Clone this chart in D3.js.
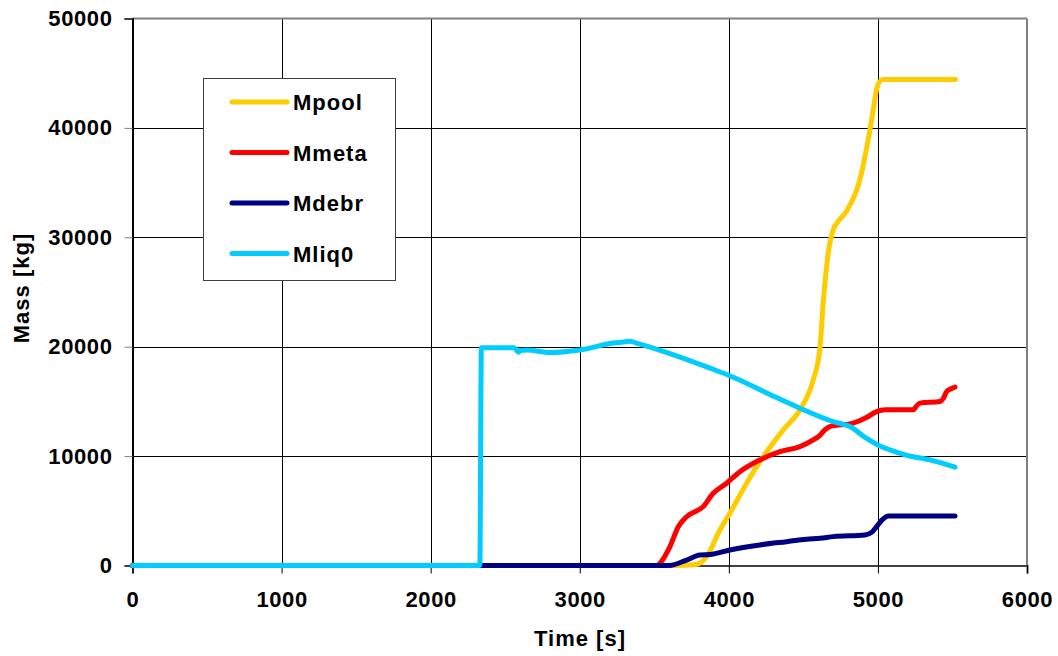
<!DOCTYPE html>
<html>
<head>
<meta charset="utf-8">
<script src="https://cdn.jsdelivr.net/npm/d3@7"></script>
<style>
  html, body { margin: 0; padding: 0; background: #fff; }
  svg text { font-family: "Liberation Sans", Arial, sans-serif; font-weight: bold; }
</style>
</head>
<body>
<svg id="chart" width="1058" height="656"></svg>
<script>
// Time axis [s] and mass histories [kg]
const xTicks = [0, 1000, 2000, 3000, 4000, 5000, 6000];
const yTicks = [0, 10000, 20000, 30000, 40000, 50000];

const seriesNames = ["Mpool", "Mmeta", "Mdebr", "Mliq0"];
const seriesColors = ["#FFCC00", "#FF0000", "#000080", "#00CCFF"];

const mpoolT = [0, 3620, 3780, 3851, 3940, 4007, 4119, 4231, 4365, 4477, 4566, 4611, 4633, 4667, 4700, 4730, 4790, 4879, 4935, 4969, 4991, 5010, 5036, 5100, 5520];
const mpoolM = [0, 0, 100, 805, 3250, 4775, 7520, 9955, 12400, 14230, 16970, 19850, 23990, 28560, 30700, 31400, 32400, 35270, 38930, 41670, 43500, 44200, 44420, 44420, 44420];

const mmetaT = [0, 3520, 3538, 3605, 3661, 3717, 3828, 3895, 3985, 4074, 4208, 4343, 4477, 4566, 4611, 4644, 4678, 4834, 4920, 4991, 5050, 5237, 5260, 5282, 5416, 5440, 5461, 5490, 5517];
const mmetaM = [0, 0, 200, 1720, 3550, 4460, 5380, 6600, 7520, 8580, 9650, 10410, 10870, 11480, 11900, 12400, 12700, 13010, 13500, 14070, 14230, 14230, 14600, 14840, 14990, 15300, 15900, 16150, 16300];

const mdebrT = [0, 3600, 3717, 3806, 3873, 4007, 4208, 4387, 4522, 4611, 4700, 4913, 4960, 4991, 5030, 5070, 5517];
const mdebrM = [0, 0, 500, 960, 1000, 1420, 1880, 2180, 2400, 2490, 2640, 2790, 3050, 3550, 4200, 4530, 4530];

const mliq0T = [0, 2330, 2340, 2560, 2590, 2600, 2645, 2800, 3000, 3225, 3310, 3337, 3370, 3600, 3875, 4007, 4250, 4477, 4700, 4812, 4919, 5000, 5081, 5182, 5349, 5517];
const mliq0M = [0, 0, 19900, 19900, 19500, 19650, 19700, 19470, 19700, 20330, 20450, 20500, 20380, 19400, 18040, 17340, 15800, 14380, 13150, 12700, 11665, 11020, 10570, 10110, 9650, 8985];

const series = [
  { name: seriesNames[0], color: seriesColors[0], t: mpoolT, m: mpoolM },
  { name: seriesNames[1], color: seriesColors[1], t: mmetaT, m: mmetaM },
  { name: seriesNames[2], color: seriesColors[2], t: mdebrT, m: mdebrM },
  { name: seriesNames[3], color: seriesColors[3], t: mliq0T, m: mliq0M }
];

const svg = d3.select("#chart");
const plotL = 132.5, plotR = 1027, plotT = 18.5, plotB = 565.5;

const x = d3.scaleLinear().domain([0, 6000]).range([plotL, plotR]);
const y = d3.scaleLinear().domain([0, 50000]).range([plotB, plotT]);

// gridlines
const grid = svg.append("g");
grid.selectAll("line.h").data(yTicks.slice(1, -1)).enter().append("line")
  .attr("x1", plotL).attr("x2", plotR)
  .attr("y1", d => Math.round(y(d)) + 0.5).attr("y2", d => Math.round(y(d)) + 0.5)
  .attr("stroke", "#000").attr("stroke-width", 1);
grid.selectAll("line.v").data(xTicks.slice(1, -1)).enter().append("line")
  .attr("y1", plotT).attr("y2", plotB)
  .attr("x1", d => Math.round(x(d)) + 0.5).attr("x2", d => Math.round(x(d)) + 0.5)
  .attr("stroke", "#000").attr("stroke-width", 1);

// plot frame
svg.append("line").attr("x1", plotL).attr("x2", plotR).attr("y1", plotT).attr("y2", plotT)
  .attr("stroke", "#808080").attr("stroke-width", 2);
svg.append("line").attr("x1", plotR).attr("x2", plotR).attr("y1", plotT).attr("y2", plotB)
  .attr("stroke", "#808080").attr("stroke-width", 2);

// axes
const xAxis = d3.axisBottom(x).tickValues(xTicks).tickSize(8).tickPadding(18).tickFormat(d3.format("d"));
const yAxis = d3.axisLeft(y).tickValues(yTicks).tickSize(8).tickPadding(12).tickFormat(d3.format("d"));

const gx = svg.append("g").attr("transform", `translate(0,${plotB})`).call(xAxis);
gx.select(".domain").attr("stroke", "#404040").attr("stroke-width", 2);
gx.selectAll(".tick line").attr("stroke", "#000");
gx.selectAll(".tick text").attr("font-size", 22).attr("letter-spacing", 0.6).attr("fill", "#000")
  .attr("font-family", "Liberation Sans, Arial, sans-serif").attr("font-weight", "bold");

const gy = svg.append("g").attr("transform", `translate(${plotL},0)`).call(yAxis);
gy.select(".domain").attr("stroke", "#000").attr("stroke-width", 2);
gy.selectAll(".tick line").attr("stroke", "#808080");
gy.selectAll(".tick text").attr("font-size", 22).attr("letter-spacing", 0.6).attr("fill", "#000")
  .attr("font-family", "Liberation Sans, Arial, sans-serif").attr("font-weight", "bold");

// axis titles
svg.append("text").attr("x", 580).attr("y", 646).attr("text-anchor", "middle")
  .attr("font-size", 22).attr("letter-spacing", 1).text("Time [s]");
svg.append("text").attr("transform", "translate(29,288) rotate(-90)").attr("text-anchor", "middle")
  .attr("font-size", 22).attr("letter-spacing", 1).text("Mass [kg]");

// series lines
const line = d3.line().x(d => x(d[0])).y(d => y(d[1])).curve(d3.curveMonotoneX);
const lines = svg.append("g");
series.forEach(s => {
  const pts = s.t.map((t, i) => [t, s.m[i]]);
  lines.append("path").datum(pts)
    .attr("d", line)
    .attr("fill", "none")
    .attr("stroke", s.color)
    .attr("stroke-width", 5)
    .attr("stroke-linejoin", "round")
    .attr("stroke-linecap", "round");
});

// legend
const lg = svg.append("g");
lg.append("rect").attr("x", 203.5).attr("y", 78.5).attr("width", 192).attr("height", 202)
  .attr("fill", "#fff").attr("stroke", "#404040").attr("stroke-width", 1);
series.forEach((s, i) => {
  const cy = 102 + i * 50.5;
  lg.append("line").attr("x1", 232).attr("x2", 287).attr("y1", cy).attr("y2", cy)
    .attr("stroke", s.color).attr("stroke-width", 5).attr("stroke-linecap", "round");
  lg.append("text").attr("x", 293).attr("y", cy + 8).attr("font-size", 22)
    .attr("letter-spacing", 1).attr("fill", "#000").text(s.name);
});
</script>
</body>
</html>
